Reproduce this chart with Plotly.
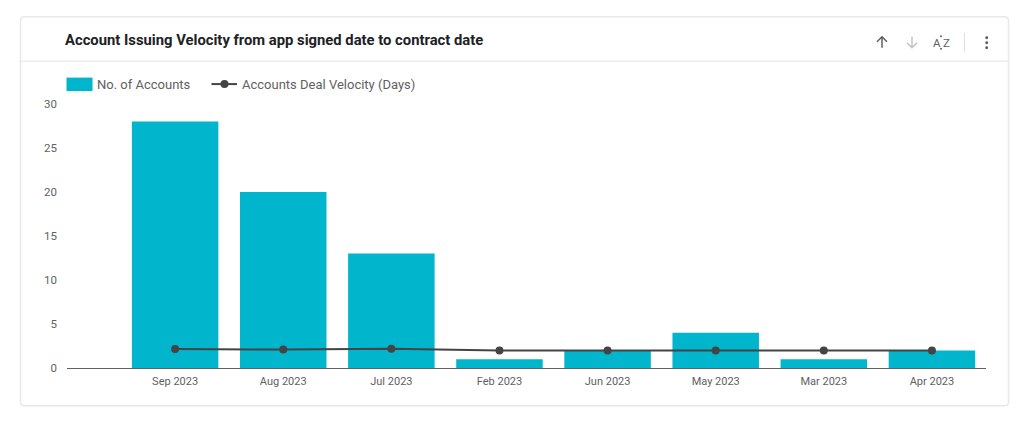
import plotly.graph_objects as go

months = ["Sep 2023", "Aug 2023", "Jul 2023", "Feb 2023", "Jun 2023", "May 2023", "Mar 2023", "Apr 2023"]
accounts = [28, 20, 13, 1, 2, 4, 1, 2]
velocity = [2.15, 2.1, 2.2, 2.0, 2.0, 2.0, 2.0, 2.0]
y_ticks = [0, 5, 10, 15, 20, 25, 30]
bar_name = "No. of Accounts"
line_name = "Accounts Deal Velocity (Days)"
title = "Account Issuing Velocity from app signed date to contract date"
BAR_C, LINE_C, TXT_C = "#00b5cc", "#444444", "#616161"

W, H = 1024, 432
L, R, T, B = 67, 986, 103.5, 368.5
def fx(p): return (p - L) / (R - L)
def fy(p): return (B - p) / (B - T)

fig = go.Figure()
fig.add_bar(name=bar_name, x=months, y=accounts, width=0.8, marker=dict(color=BAR_C, line_width=0))
fig.add_scatter(name=line_name, x=months, y=velocity, mode="lines+markers",
                line=dict(color=LINE_C, width=2), marker=dict(color=LINE_C, size=8))

P = dict(xref="paper", yref="paper")
cx0, cx1, cy0, cy1, r = 20.5, 1008.5, 16, 406.5, 4
card = (f"M{fx(cx0 + r)},{fy(cy0)} L{fx(cx1 - r)},{fy(cy0)} Q{fx(cx1)},{fy(cy0)} {fx(cx1)},{fy(cy0 + r)} "
        f"L{fx(cx1)},{fy(cy1 - r)} Q{fx(cx1)},{fy(cy1)} {fx(cx1 - r)},{fy(cy1)} "
        f"L{fx(cx0 + r)},{fy(cy1)} Q{fx(cx0)},{fy(cy1)} {fx(cx0)},{fy(cy1 - r)} "
        f"L{fx(cx0)},{fy(cy0 + r)} Q{fx(cx0)},{fy(cy0)} {fx(cx0 + r)},{fy(cy0)} Z")
shapes = [
    dict(type="path", path=card, line=dict(color="#e8e8e8", width=1.5), fillcolor="white", layer="below", **P),
    dict(type="line", x0=fx(20.5), x1=fx(1008.5), y0=fy(60.5), y1=fy(60.5), line=dict(color="#ececec", width=1.5), layer="below", **P),
    dict(type="line", x0=fx(964.5), x1=fx(964.5), y0=fy(32), y1=fy(51), line=dict(color="#e0e0e0", width=1), **P),
    dict(type="path", path=f"M{fx(882)},{fy(47)} L{fx(882)},{fy(36)} M{fx(877)},{fy(41)} L{fx(882)},{fy(36)} L{fx(887)},{fy(41)}",
         line=dict(color=TXT_C, width=1.5), **P),
    dict(type="path", path=f"M{fx(912)},{fy(36)} L{fx(912)},{fy(47)} M{fx(907)},{fy(42)} L{fx(912)},{fy(47)} L{fx(917)},{fy(42)}",
         line=dict(color="#c4c4c4", width=1.5), **P),
    # legend keys
    dict(type="rect", x0=fx(66.5), x1=fx(92.5), y0=fy(90.5), y1=fy(77), fillcolor=BAR_C, line_width=0, **P),
    dict(type="line", x0=fx(211.5), x1=fx(237), y0=fy(83.5), y1=fy(83.5), line=dict(color=LINE_C, width=2), **P),
    dict(type="circle", x0=fx(220.5), x1=fx(228.5), y0=fy(87.5), y1=fy(79.5), fillcolor=LINE_C, line_width=0, **P),
]
for py in (37, 42, 47):
    shapes.append(dict(type="circle", x0=fx(985.2), x1=fx(988.2), y0=fy(py + 1.5), y1=fy(py - 1.5),
                       fillcolor=TXT_C, line_width=0, **P))
for py in (35.5, 48):
    shapes.append(dict(type="circle", x0=fx(940), x1=fx(942), y0=fy(py + 1), y1=fy(py - 1),
                       fillcolor=TXT_C, line_width=0, **P))

def note(text, px, py, size, color=TXT_C, anchor="left"):
    return dict(text=text, x=fx(px), y=fy(py), xanchor=anchor, yanchor="middle", showarrow=False,
                font=dict(family="Roboto", size=size, color=color), **P)

annotations = [
    note(f"<b>{title}</b>", 63, 39.5, 14.8, "#202124"),
    note("A", 937, 42, 11.5, TXT_C, "center"),
    note("Z", 946, 42, 11.5, TXT_C, "center"),
    note(bar_name, 95, 83.5, 13),
    note(line_name, 240, 83.5, 13),
]

fig.update_layout(
    width=W, height=H, autosize=False, margin=dict(l=L, r=W - R, t=T, b=H - B),
    paper_bgcolor="white", plot_bgcolor="rgba(0,0,0,0)", shapes=shapes, annotations=annotations,
    font=dict(family="Roboto", color=TXT_C), bargap=0.2, showlegend=False,
    xaxis=dict(type="category", range=[-1, 7.5], showgrid=False, showline=True, linecolor=TXT_C, linewidth=1,
               ticks="", tickfont=dict(size=11, color=TXT_C), ticklabelstandoff=3),
    yaxis=dict(range=[0, 30], tickvals=y_ticks, showgrid=False, zeroline=False, showline=False,
               ticks="", tickfont=dict(size=11.5, color=TXT_C), ticklabelstandoff=9),
)
fig.write_html("out.html", config=dict(displayModeBar=False),
               post_script="document.body.style.margin='0';")
